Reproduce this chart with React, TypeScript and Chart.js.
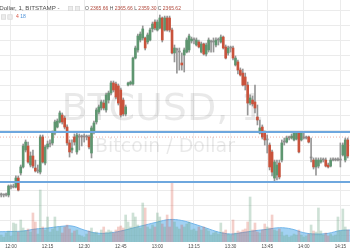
import { useEffect, useRef } from "react";
import { Chart, registerables } from "chart.js";

Chart.register(...registerables);

// minutes relative to 12:00; first candle is 11:56
const START_MINUTE = -4;

const OPEN = [
  2327.0, 2327.0, 2327.0, 2327.0, 2332.3, 2332.3, 2332.3, 2338.3, 2341.7, 2345.7,
  2357.0, 2359.7, 2347.0, 2353.0, 2345.0, 2343.0, 2342.3, 2365.7, 2348.3, 2359.0,
  2361.0, 2361.7, 2368.3, 2372.3, 2375.7, 2380.3, 2378.3, 2372.3, 2361.7, 2357.0,
  2365.7, 2355.7, 2365.7, 2365.7, 2365.7, 2365.7, 2365.7, 2355.0, 2369.0, 2375.7,
  2382.3, 2385.0, 2388.3, 2383.7, 2390.3, 2395.0, 2401.7, 2401.0, 2399.7, 2397.0,
  2390.3, 2381.0, 2400.3, 2401.0, 2401.0, 2418.3, 2423.7, 2430.3, 2431.7, 2431.7,
  2429.0, 2430.3, 2437.7, 2442.3, 2437.0, 2438.3, 2445.0, 2437.0, 2445.0, 2445.0,
  2437.0, 2421.7, 2423.7, 2422.3, 2415.0, 2420.3, 2422.3, 2423.7, 2429.7, 2430.3,
  2427.0, 2429.0, 2422.3, 2427.7, 2421.0, 2423.7, 2429.0, 2429.0, 2427.0, 2430.3,
  2429.0, 2432.3, 2425.7, 2421.7, 2425.0, 2425.0, 2413.7, 2415.7, 2410.3, 2408.3,
  2405.7, 2400.3, 2388.3, 2390.3, 2389.0, 2379.0, 2368.3, 2372.3, 2368.3, 2363.7,
  2360.3, 2355.7, 2338.3, 2340.3, 2348.3, 2350.3, 2362.3, 2362.3, 2365.0, 2365.0,
  2363.7, 2364.3, 2368.3, 2363.7, 2365.0, 2365.0, 2365.7, 2351.7, 2350.3, 2345.7,
  2346.3, 2349.0, 2350.3, 2350.3, 2347.0, 2346.3, 2350.3, 2350.3, 2350.3, 2350.3,
  2353.7, 2350.3, 2363.7,
];

const HIGH = [
  2328.3, 2327.7, 2328.3, 2333.7, 2333.7, 2334.3, 2339.7, 2339.7, 2347.0, 2361.0,
  2363.7, 2362.3, 2355.7, 2357.0, 2350.3, 2347.0, 2367.0, 2367.0, 2360.3, 2363.0,
  2363.7, 2369.7, 2377.0, 2377.7, 2383.0, 2381.7, 2379.7, 2373.7, 2363.7, 2363.7,
  2367.7, 2368.3, 2367.7, 2367.0, 2367.7, 2367.0, 2367.0, 2373.0, 2376.3, 2385.0,
  2387.0, 2390.3, 2390.3, 2395.0, 2396.3, 2403.0, 2403.0, 2402.3, 2401.0, 2398.3,
  2391.7, 2387.0, 2402.3, 2403.0, 2419.0, 2426.3, 2434.3, 2435.7, 2439.7, 2432.3,
  2435.0, 2438.3, 2442.3, 2443.7, 2443.7, 2447.0, 2445.7, 2446.3, 2446.3, 2446.3,
  2438.3, 2427.0, 2425.0, 2425.0, 2421.7, 2425.0, 2431.7, 2434.3, 2432.3, 2431.7,
  2431.7, 2430.3, 2429.0, 2428.3, 2428.3, 2431.7, 2430.3, 2431.7, 2431.7, 2431.7,
  2433.7, 2433.0, 2427.0, 2426.3, 2426.3, 2426.3, 2419.7, 2417.0, 2411.7, 2411.0,
  2408.3, 2402.3, 2393.7, 2393.0, 2400.3, 2387.0, 2377.0, 2373.7, 2369.7, 2367.0,
  2361.7, 2357.0, 2350.3, 2350.3, 2350.3, 2363.7, 2365.0, 2366.3, 2366.3, 2367.7,
  2369.0, 2369.0, 2369.0, 2369.0, 2369.0, 2366.3, 2366.3, 2365.0, 2351.7, 2351.7,
  2351.7, 2351.7, 2351.7, 2351.7, 2348.3, 2351.7, 2351.7, 2351.7, 2351.7, 2361.7,
  2361.7, 2365.0, 2365.0,
];

const LOW = [
  2325.7, 2325.7, 2326.3, 2325.7, 2331.0, 2331.7, 2331.7, 2329.7, 2340.3, 2345.0,
  2355.7, 2348.3, 2345.7, 2345.0, 2342.3, 2341.7, 2341.0, 2348.3, 2347.0, 2357.7,
  2359.0, 2360.3, 2367.0, 2371.7, 2375.0, 2374.3, 2371.0, 2360.3, 2352.3, 2355.0,
  2360.3, 2354.3, 2357.0, 2359.7, 2362.3, 2363.7, 2357.7, 2351.7, 2367.7, 2374.3,
  2381.0, 2383.7, 2383.7, 2382.3, 2388.3, 2393.7, 2395.7, 2391.0, 2387.0, 2379.0,
  2379.7, 2379.7, 2399.7, 2400.3, 2400.3, 2417.7, 2422.3, 2429.0, 2430.3, 2423.7,
  2427.7, 2429.7, 2435.7, 2437.0, 2436.3, 2437.7, 2429.0, 2436.3, 2436.3, 2435.7,
  2421.0, 2415.7, 2408.3, 2410.3, 2410.3, 2409.0, 2421.7, 2422.3, 2428.3, 2427.7,
  2426.3, 2425.0, 2421.7, 2420.3, 2419.7, 2422.3, 2422.3, 2422.3, 2425.7, 2427.0,
  2428.3, 2424.3, 2417.7, 2420.3, 2422.3, 2417.0, 2413.0, 2407.7, 2406.3, 2399.7,
  2397.0, 2380.3, 2387.0, 2386.3, 2381.7, 2373.7, 2367.7, 2364.3, 2360.3, 2355.0,
  2343.7, 2339.7, 2336.3, 2337.0, 2337.7, 2349.0, 2360.3, 2361.7, 2363.7, 2364.3,
  2363.0, 2363.7, 2355.0, 2363.0, 2364.3, 2364.3, 2361.7, 2349.0, 2344.3, 2340.3,
  2345.0, 2348.3, 2349.0, 2345.7, 2345.0, 2345.7, 2349.7, 2349.7, 2349.7, 2345.7,
  2353.0, 2349.0, 2351.7,
];

const CLOSE = [
  2327.0, 2327.0, 2327.0, 2333.0, 2332.3, 2332.3, 2338.3, 2330.3, 2345.7, 2359.7,
  2362.3, 2349.0, 2353.0, 2346.3, 2343.0, 2343.0, 2365.7, 2349.0, 2359.0, 2361.0,
  2361.0, 2368.3, 2375.7, 2376.3, 2381.7, 2375.7, 2372.3, 2361.7, 2355.7, 2358.3,
  2362.3, 2367.0, 2365.7, 2365.7, 2365.7, 2365.7, 2359.0, 2371.7, 2375.0, 2383.7,
  2385.7, 2389.0, 2385.0, 2393.7, 2395.0, 2401.7, 2397.0, 2392.3, 2388.3, 2380.3,
  2381.0, 2385.7, 2401.7, 2402.3, 2418.3, 2425.0, 2433.0, 2434.3, 2437.7, 2425.0,
  2433.7, 2437.0, 2441.0, 2438.3, 2442.3, 2445.0, 2430.3, 2445.0, 2437.0, 2437.0,
  2421.7, 2425.0, 2423.7, 2422.3, 2413.7, 2423.7, 2430.3, 2433.0, 2431.0, 2430.3,
  2430.3, 2425.7, 2427.7, 2421.0, 2427.0, 2430.3, 2429.0, 2429.0, 2430.3, 2430.3,
  2432.3, 2425.0, 2418.3, 2425.0, 2425.0, 2418.3, 2418.3, 2410.3, 2407.0, 2400.3,
  2400.3, 2388.3, 2391.7, 2387.7, 2385.0, 2377.0, 2371.7, 2365.7, 2363.7, 2363.7,
  2345.7, 2342.3, 2349.0, 2347.0, 2339.0, 2361.7, 2362.3, 2365.0, 2365.0, 2366.3,
  2368.3, 2368.3, 2355.7, 2368.3, 2365.0, 2365.0, 2362.3, 2351.7, 2345.7, 2350.3,
  2350.3, 2350.3, 2350.3, 2346.3, 2345.7, 2350.3, 2350.3, 2350.3, 2350.3, 2350.3,
  2360.3, 2363.7, 2353.0,
];

const VOLUME = [
  14, 10, 18, 22, 12, 38, 36, 20, 44, 28,
  22, 26, 20, 58, 40, 16, 104, 30, 24, 50,
  20, 26, 50, 22, 30, 18, 30, 34, 26, 18,
  22, 24, 14, 12, 10, 16, 22, 28, 18, 20,
  14, 24, 30, 20, 24, 22, 18, 24, 30, 32,
  28, 54, 40, 30, 58, 50, 34, 28, 78, 68,
  30, 26, 34, 30, 58, 50, 36, 30, 54, 30,
  120, 40, 30, 26, 34, 30, 36, 40, 24, 26,
  22, 30, 24, 30, 26, 22, 14, 18, 20, 16,
  38, 20, 24, 16, 14, 44, 18, 22, 20, 24,
  26, 40, 90, 24, 38, 20, 18, 24, 36, 30,
  28, 54, 24, 22, 26, 20, 12, 14, 10, 12,
  16, 14, 24, 14, 10, 12, 16, 34, 22, 20,
  68, 22, 14, 18, 12, 16, 12, 14, 50, 22,
  66, 30, 24,
];

// volume moving average (sampled)
const VOL_MA_MINUTES = [-4.5, 0, 5, 10, 15, 20, 25, 30, 35, 40, 45, 50, 55, 60, 65, 70, 75, 80, 85, 90, 95, 100, 105, 110, 115, 120, 125, 130, 135, 139];
const VOL_MA = [20.6, 21, 22, 26, 28, 31, 32, 24, 18, 18, 22, 28, 34, 40, 45, 43, 36, 28, 20, 16, 19, 22.6, 25.4, 28.6, 26, 18.6, 16, 17.4, 23, 24];

const TICK_MINUTES = [0, 15, 30, 45, 60, 75, 90, 105, 120, 135];
const TICK_LABELS = ["12:00", "12:15", "12:30", "12:45", "13:00", "13:15", "13:30", "13:45", "14:00", "14:15"];
const GRID_PRICES = [2450, 2440, 2430, 2420, 2410, 2400, 2390, 2380, 2370, 2360, 2350, 2340, 2330, 2320, 2310, 2300];
const LEVELS = [2369.0, 2335.7];
const LAST_PRICE = 2365.62;

const X_MIN = -4.5;
const X_MAX = 138.94;
const PRICE_MIN = 2295.67;
const PRICE_MAX = 2457;
const VOL_MAX = 484;

const HEADER_SYMBOL = "Dollar, 1, BITSTAMP";
const HEADER_OHLC: [string, string][] = [["O", "2365.66"], ["H", "2365.66"], ["L", "2359.30"], ["C", "2365.62"]];
const HEADER_VOL: [string, string][] = [["4", "#d75442"], ["18", "#4a90d9"]];
const WATERMARK = "BTCUSD, 1";
const WATERMARK_SUB = "Bitcoin / Dollar";

const UP = "#5e9670";
const DOWN = "#c9533c";
const FLAT = "#8f8f8f";

function dir(i: number) {
  return CLOSE[i] > OPEN[i] ? 1 : CLOSE[i] < OPEN[i] ? -1 : 0;
}

const watermarkPlugin = {
  id: "watermark",
  beforeDatasetsDraw(chart: any) {
    const ctx = chart.ctx;
    ctx.save();
    ctx.fillStyle = "rgba(0,0,0,0.085)";
    ctx.textAlign = "center";
    ctx.textBaseline = "alphabetic";
    ctx.font = '38px "DejaVu Sans"';
    ctx.fillText(WATERMARK, 163, 120);
    ctx.font = '19px "DejaVu Sans"';
    ctx.fillText(WATERMARK_SUB, 165, 152);
    ctx.restore();
  },
};

function box(ctx: CanvasRenderingContext2D, x: number, y: number) {
  ctx.fillStyle = "#ececec";
  ctx.fillRect(x, y, 5, 5);
  ctx.strokeStyle = "#d6d6d6";
  ctx.lineWidth = 0.6;
  ctx.strokeRect(x + 0.3, y + 0.3, 4.4, 4.4);
}

const headerPlugin = {
  id: "header",
  afterDraw(chart: any) {
    const ctx: CanvasRenderingContext2D = chart.ctx;
    ctx.save();
    ctx.textBaseline = "middle";
    ctx.textAlign = "left";
    ctx.font = '6.2px "Liberation Sans"';
    ctx.fillStyle = "#4d4d4d";
    ctx.fillText(HEADER_SYMBOL + " -", -0.8, 8.5);
    box(ctx, 68, 6);
    box(ctx, 75, 6);
    let x = 85;
    ctx.font = '5px "Liberation Sans"';
    for (const [k, v] of HEADER_OHLC) {
      ctx.fillStyle = "#555";
      ctx.fillText(k, x, 8.5);
      x += ctx.measureText(k + " ").width;
      ctx.fillStyle = "#b0473a";
      ctx.fillText(v, x, 8.5);
      x += ctx.measureText(v + " ").width;
    }
    box(ctx, 1, 14.5);
    box(ctx, 7.5, 14.5);
    let x2 = 16;
    for (const [t, c] of HEADER_VOL) {
      ctx.fillStyle = c;
      ctx.fillText(t, x2, 17);
      x2 += ctx.measureText(t + " ").width;
    }
    ctx.restore();
  },
};

export default function App() {
  const ref = useRef<HTMLCanvasElement>(null);
  useEffect(() => {
    document.body.style.margin = "0";
    const minutes = OPEN.map((_, i) => START_MINUTE + i);
    const bodyColors = OPEN.map((_, i) => (dir(i) > 0 ? UP : dir(i) < 0 ? DOWN : FLAT));
    const volColors = OPEN.map((_, i) => (dir(i) >= 0 ? "rgba(107,165,131,0.33)" : "rgba(215,84,66,0.28)"));
    const levelSets = LEVELS.map((lv) => ({
      type: "line" as const,
      data: [{ x: X_MIN, y: lv }, { x: X_MAX, y: lv }],
      borderColor: "#6ea7de",
      borderWidth: 2,
      pointRadius: 0,
      yAxisID: "y",
      order: 0,
    }));
    const chart = new Chart(ref.current!, {
      type: "bar",
      data: {
        datasets: [
          ...levelSets,
          {
            type: "line",
            data: [{ x: X_MIN, y: LAST_PRICE }, { x: X_MAX, y: LAST_PRICE }],
            borderColor: "rgba(215,84,66,0.45)",
            borderWidth: 1,
            borderDash: [1, 2],
            pointRadius: 0,
            yAxisID: "y",
            order: 0,
          },
          {
            type: "bar",
            data: minutes.map((m, i) => ({ x: m, y: [OPEN[i], CLOSE[i]] })),
            backgroundColor: bodyColors,
            barThickness: 2,
            minBarLength: 1,
            grouped: false,
            yAxisID: "y",
            order: 1,
          },
          {
            type: "bar",
            data: minutes.map((m, i) => ({ x: m, y: [LOW[i], HIGH[i]] })),
            backgroundColor: "#969696",
            barThickness: 1,
            grouped: false,
            yAxisID: "y",
            order: 2,
          },
          {
            type: "bar",
            data: minutes.map((m, i) => ({ x: m, y: VOLUME[i] })),
            backgroundColor: volColors,
            barThickness: 2,
            grouped: false,
            yAxisID: "yv",
            order: 3,
          },
          {
            type: "line",
            data: VOL_MA_MINUTES.map((m, i) => ({ x: m, y: VOL_MA[i] })),
            borderColor: "rgba(105,176,232,0.9)",
            borderWidth: 1,
            backgroundColor: "rgba(118,188,238,0.68)",
            fill: "origin",
            tension: 0.4,
            pointRadius: 0,
            yAxisID: "yv",
            order: 4,
          },
        ] as any,
      },
      options: {
        responsive: false,
        animation: false,
        devicePixelRatio: 1,
        events: [],
        layout: { padding: 0 },
        plugins: { legend: { display: false }, tooltip: { enabled: false } },
        scales: {
          x: {
            type: "linear",
            offset: false,
            min: X_MIN,
            max: X_MAX,
            afterBuildTicks: (s: any) => {
              s.ticks = TICK_MINUTES.map((v) => ({ value: v }));
            },
            afterFit: (s: any) => {
              s.height = 8;
            },
            ticks: {
              autoSkip: false,
              maxRotation: 0,
              padding: 1.5,
              color: "#4a4a4a",
              font: { size: 4.6, family: "Liberation Sans" },
              callback: (v: any) => TICK_LABELS[TICK_MINUTES.indexOf(Number(v))] ?? "",
            },
            grid: { color: "#ebebeb", lineWidth: 1, drawTicks: false, offset: false },
            border: { display: false },
          },
          y: {
            type: "linear",
            position: "left",
            min: PRICE_MIN,
            max: PRICE_MAX,
            afterBuildTicks: (s: any) => {
              s.ticks = GRID_PRICES.map((v) => ({ value: v }));
            },
            afterFit: (s: any) => {
              s.width = 0;
            },
            ticks: { display: false },
            grid: { color: "#ebebeb", lineWidth: 1, drawTicks: false },
            border: { display: false },
          },
          yv: {
            type: "linear",
            display: false,
            min: 0,
            max: VOL_MAX,
          },
        },
      },
      plugins: [watermarkPlugin, headerPlugin],
    } as any);
    return () => chart.destroy();
  }, []);
  return (
    <div style={{ position: "fixed", left: 0, top: 0, width: 350, height: 250, background: "#fff" }}>
      <canvas ref={ref} width={350} height={250} style={{ display: "block", width: 350, height: 250 }} />
    </div>
  );
}
